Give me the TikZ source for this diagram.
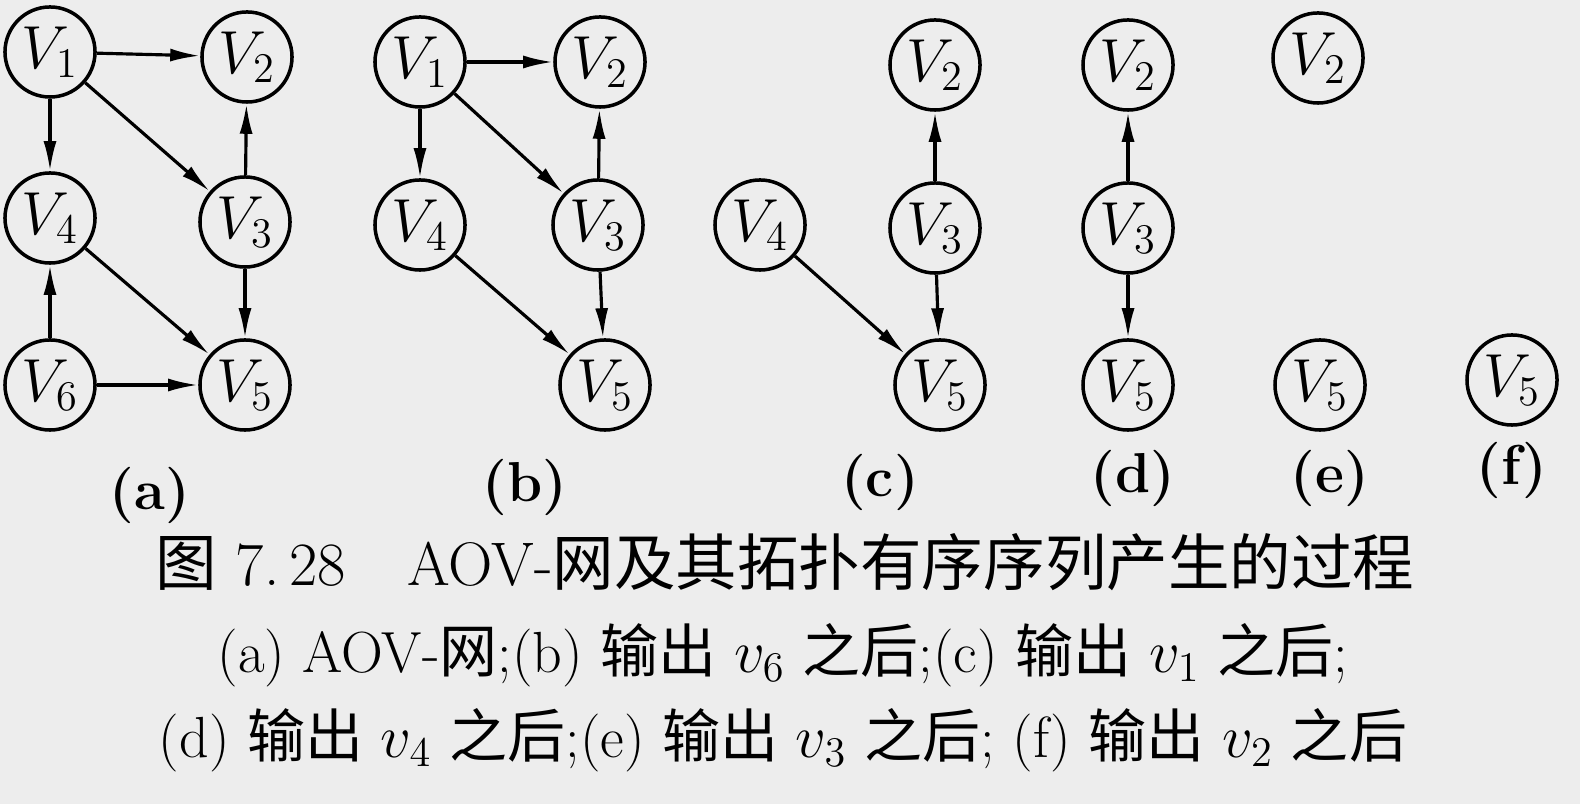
\documentclass[tikz,border=0pt]{standalone}
\usepackage{fontspec}
\newfontfamily\cjk{Noto Sans CJK SC}
\usetikzlibrary{arrows.meta}

\begin{document}
\begin{tikzpicture}[x=0.01cm,y=-0.01cm]
    \tikzset{vertex/.style = {shape=circle, draw, line width=1pt, minimum size=0.9cm, inner sep=0pt, font=\fontsize{17}{20}\selectfont}}
    \tikzset{edge/.style = {draw, line width=0.9pt, -{Latex[length=3mm,width=1.3mm]}}}
    \tikzset{sublabel/.style = {font=\fontsize{16}{19}\selectfont\bfseries}}
    \tikzset{caption/.style = {font=\fontsize{16.5}{19}\selectfont}}

    \fill[black!7] (0,0) rectangle (1580,804);
    \useasboundingbox (0,0) rectangle (1580,804);

    % vertices (a)
    \node[vertex] (a1) at (50,52)   {$V_1$};
    \node[vertex] (a2) at (247,57)  {$V_2$};
    \node[vertex] (a4) at (50,218)  {$V_4$};
    \node[vertex] (a3) at (245,222) {$V_3$};
    \node[vertex] (a6) at (50,385)  {$V_6$};
    \node[vertex] (a5) at (245,385) {$V_5$};

    % edges (a)
    \draw[edge] (a1) -- (a2);
    \draw[edge] (a1) -- (a4);
    \draw[edge] (a1) -- (a3);
    \draw[edge] (a3) -- (a2);
    \draw[edge] (a3) -- (a5);
    \draw[edge] (a4) -- (a5);
    \draw[edge] (a6) -- (a4);
    \draw[edge] (a6) -- (a5);

    % vertices (b)
    \node[vertex] (b1) at (420,62)  {$V_1$};
    \node[vertex] (b2) at (600,62)  {$V_2$};
    \node[vertex] (b4) at (420,225) {$V_4$};
    \node[vertex] (b3) at (598,225) {$V_3$};
    \node[vertex] (b5) at (605,385) {$V_5$};

    % edges (b)
    \draw[edge] (b1) -- (b2);
    \draw[edge] (b1) -- (b4);
    \draw[edge] (b1) -- (b3);
    \draw[edge] (b3) -- (b2);
    \draw[edge] (b3) -- (b5);
    \draw[edge] (b4) -- (b5);

    % vertices (c)
    \node[vertex] (c2) at (935,65)  {$V_2$};
    \node[vertex] (c4) at (760,225) {$V_4$};
    \node[vertex] (c3) at (935,228) {$V_3$};
    \node[vertex] (c5) at (940,385) {$V_5$};

    % edges (c)
    \draw[edge] (c3) -- (c2);
    \draw[edge] (c3) -- (c5);
    \draw[edge] (c4) -- (c5);

    % vertices (d)
    \node[vertex] (d2) at (1128,65)  {$V_2$};
    \node[vertex] (d3) at (1128,228) {$V_3$};
    \node[vertex] (d5) at (1128,385) {$V_5$};

    % edges (d)
    \draw[edge] (d3) -- (d2);
    \draw[edge] (d3) -- (d5);

    % vertices (e), (f)
    \node[vertex] (e2) at (1318,58)  {$V_2$};
    \node[vertex] (e5) at (1320,385) {$V_5$};
    \node[vertex] (f5) at (1512,380) {$V_5$};

    % sub labels
    \node[sublabel] (la) at (150,495)  {(a)};
    \node[sublabel] (lb) at (525,487)  {(b)};
    \node[sublabel] (lc) at (880,482)  {(c)};
    \node[sublabel] (ld) at (1133,478) {(d)};
    \node[sublabel] (le) at (1330,478) {(e)};
    \node[sublabel] (lf) at (1512,470) {(f)};

    % caption
    \node[font=\fontsize{17.5}{21}\selectfont] (cap) at (785,562)
        {{\cjk 图}\ 7.\,28\quad AOV-{\cjk 网及其拓扑有序序列产生的过程}};
    \node[caption] (cap1) at (783,655)
        {(a) AOV-{\cjk 网};(b) {\cjk 输出} $v_6$ {\cjk 之后};(c) {\cjk 输出} $v_1$ {\cjk 之后};};
    \node[caption] (cap2) at (783,740)
        {(d) {\cjk 输出} $v_4$ {\cjk 之后};(e) {\cjk 输出} $v_3$ {\cjk 之后}; (f) {\cjk 输出} $v_2$ {\cjk 之后}};
\end{tikzpicture}
\end{document}
